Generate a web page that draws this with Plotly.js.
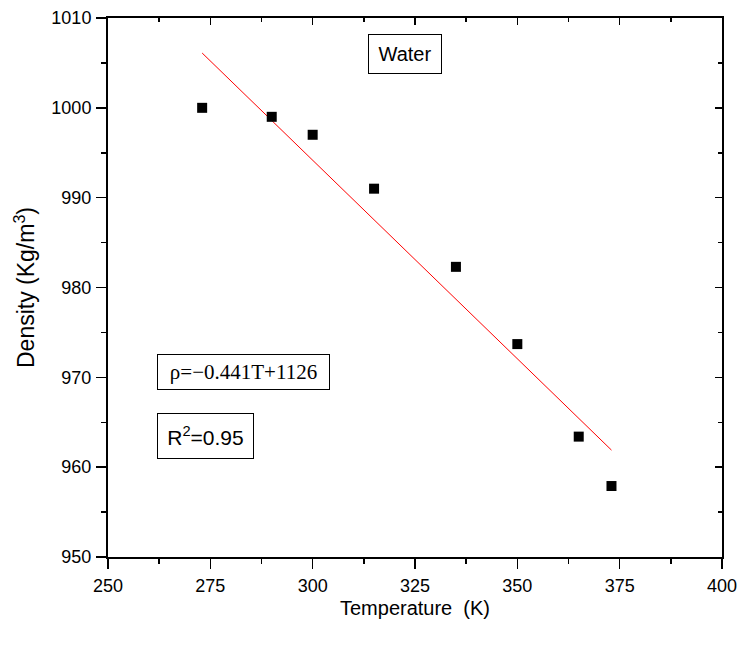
<!DOCTYPE html>
<html>
<head>
<meta charset="utf-8">
<script src="https://cdn.plot.ly/plotly-3.0.1.min.js"></script>
<style>html,body{margin:0;padding:0;background:#fff;}#chart{width:740px;height:646px;}</style>
</head>
<body>
<div id="chart"></div>
<script>
// Data
var temperature = [273, 290, 300, 315, 335, 350, 365, 373];
var density = [1000.0, 999.0, 997.0, 991.0, 982.3, 973.7, 963.4, 957.9];
var fitT = [273, 373];
var fitRho = [1006.1, 961.9];
var xTicks = [250, 275, 300, 325, 350, 375, 400];
var yTicks = [950, 960, 970, 980, 990, 1000, 1010];

var font = 'Liberation Sans, Arial, sans-serif';
var xr = [250, 400], yr = [950, 1010];

var traces = [
  {x: fitT, y: fitRho, mode: 'lines', type: 'scatter',
   line: {color: '#ff0000', width: 1}, hoverinfo: 'skip', showlegend: false},
  {x: temperature, y: density, mode: 'markers', type: 'scatter',
   marker: {symbol: 'square', size: 10, color: '#000'}, showlegend: false},
  {x: [], y: [], xaxis: 'x2', yaxis: 'y2', mode: 'markers', showlegend: false}
];

var axBase = {
  showgrid: false, zeroline: false, linecolor: '#000', linewidth: 2,
  tickcolor: '#000', tickwidth: 1.5, ticklen: 10, ticklabelstandoff: 1,
  tickfont: {family: font, size: 18, color: '#000'}
};

var layout = {
  width: 740, height: 646,
  margin: {l: 108, r: 18, t: 18, b: 89},
  paper_bgcolor: '#fff', plot_bgcolor: '#fff',
  xaxis: Object.assign({}, axBase, {
    range: xr, tickmode: 'array', tickvals: xTicks, ticktext: xTicks.map(String),
    ticks: 'outside', showline: true, mirror: true,
    minor: {dtick: 12.5, tick0: 250, ticks: 'outside', ticklen: 5, tickwidth: 1.5, tickcolor: '#000'},
    title: {text: 'Temperature  (K)', font: {family: font, size: 20, color: '#000'}, standoff: 6}
  }),
  yaxis: Object.assign({}, axBase, {
    range: yr, tickmode: 'array', tickvals: yTicks, ticktext: yTicks.map(String),
    ticks: 'outside', showline: true, mirror: true,
    minor: {dtick: 5, tick0: 950, ticks: 'outside', ticklen: 5, tickwidth: 1.5, tickcolor: '#000'},
    title: {text: 'Density (Kg/m<sup>3</sup>)', font: {family: font, size: 23, color: '#000'}, standoff: 10}
  }),
  xaxis2: {
    overlaying: 'x', side: 'top', anchor: 'y2', range: xr, showgrid: false, zeroline: false,
    showline: false, showticklabels: false, ticks: 'inside', ticklen: 7, tickwidth: 1.5, tickcolor: '#000',
    tickmode: 'array', tickvals: xTicks,
    minor: {dtick: 12.5, tick0: 250, ticks: 'inside', ticklen: 4, tickwidth: 1.5, tickcolor: '#000'}
  },
  yaxis2: {
    overlaying: 'y', side: 'right', anchor: 'x2', range: yr, showgrid: false, zeroline: false,
    showline: false, showticklabels: false, ticks: 'inside', ticklen: 7, tickwidth: 1.5, tickcolor: '#000',
    tickmode: 'array', tickvals: yTicks,
    minor: {dtick: 5, tick0: 950, ticks: 'inside', ticklen: 4, tickwidth: 1.5, tickcolor: '#000'}
  },
  annotations: [
    {x: 322.6, y: 1006.0, xref: 'x', yref: 'y', text: 'Water', showarrow: false,
     font: {family: font, size: 20, color: '#000'}, bordercolor: '#000', borderwidth: 1,
     width: 70, height: 36, borderpad: 1, bgcolor: '#fff'},
    {x: 283.0, y: 970.6, xref: 'x', yref: 'y', text: 'ρ=−0.441T+1126', showarrow: false,
     font: {family: 'Liberation Serif, Times New Roman, serif', size: 21, color: '#000'},
     bordercolor: '#000', borderwidth: 1, width: 169, height: 32, borderpad: 1, bgcolor: '#fff'},
    {x: 273.7, y: 963.5, xref: 'x', yref: 'y', text: 'R<sup>2</sup>=0.95', showarrow: false,
     font: {family: font, size: 21, color: '#000'}, bordercolor: '#000', borderwidth: 1,
     width: 93, height: 42, borderpad: 1, bgcolor: '#fff'}
  ]
};

Plotly.newPlot('chart', traces, layout, {displayModeBar: false, staticPlot: true});
</script>
</body>
</html>
